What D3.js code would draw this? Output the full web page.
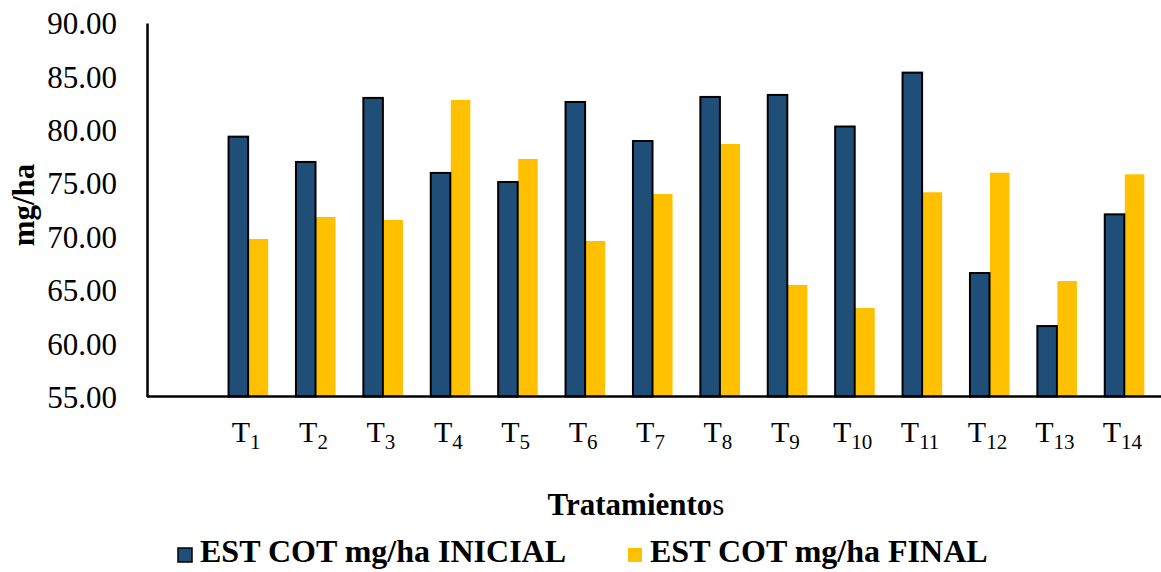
<!DOCTYPE html>
<html>
<head>
<meta charset="utf-8">
<script src="https://cdn.jsdelivr.net/npm/d3@7"></script>
<style>
  html, body { margin: 0; padding: 0; background: #fff; }
  svg { display: block; }
  text { font-family: "Liberation Serif", "Times New Roman", serif; fill: #000; }
</style>
</head>
<body>
<svg id="chart" width="1161" height="572"></svg>
<script>
// Treatments (an empty slot precedes T1 on the category axis)
const categories = ["", "1", "2", "3", "4", "5", "6", "7", "8", "9", "10", "11", "12", "13", "14"];
const treatments = categories.slice(1);
const inicial = [79.35, 76.98, 82.98, 75.95, 75.10, 82.60, 78.94, 83.07, 83.26, 80.30, 85.35, 66.57, 61.60, 72.07];
const final   = [69.76, 71.82, 71.54, 82.79, 77.26, 69.57, 73.98, 78.66, 65.45, 63.29, 74.14, 75.97, 65.82, 75.82];
const yTicks  = [55, 60, 65, 70, 75, 80, 85, 90];
const seriesNames = ["EST COT mg/ha INICIAL", "EST COT mg/ha FINAL"];

const colors = { inicial: "#1F4E79", final: "#FFC000" };

const svg = d3.select("#chart");

const x = d3.scaleBand().domain(categories).range([147, 1158]).padding(0);
const y = d3.scaleLinear().domain([55, 90]).range([396.5, 23]);

const barW = x.bandwidth() * 0.29;

// Bars: initial (outlined) left of the category centre, final right of it
const groups = svg.append("g");
treatments.forEach((t, i) => {
  const cx = x(t) + x.bandwidth() / 2;
  groups.append("rect")
    .attr("x", cx + 0.5)
    .attr("y", y(final[i]))
    .attr("width", barW)
    .attr("height", y(55) - y(final[i]))
    .attr("fill", colors.final);
  groups.append("rect")
    .attr("x", cx - barW)
    .attr("y", y(inicial[i]))
    .attr("width", barW)
    .attr("height", y(55) - y(inicial[i]))
    .attr("fill", colors.inicial)
    .attr("stroke", "#000")
    .attr("stroke-width", 2);
});

// Y axis
const yAxis = svg.append("g")
  .attr("transform", "translate(147,0)")
  .call(d3.axisLeft(y).tickValues(yTicks).tickFormat(d3.format(".2f")).tickSize(0).tickPadding(30));
yAxis.select(".domain").attr("stroke", "#000").attr("stroke-width", 2.5);
yAxis.selectAll("text")
  .attr("font-size", 31)
  .attr("font-family", "Liberation Serif, serif")
  .attr("dy", "0.35em");

// X axis line
svg.append("line")
  .attr("x1", 147).attr("x2", 1161)
  .attr("y1", y(55)).attr("y2", y(55))
  .attr("stroke", "#000").attr("stroke-width", 2.5);

// Category labels: T with subscript number
const xl = svg.append("g");
treatments.forEach(t => {
  const cx = x(t) + x.bandwidth() / 2;
  const txt = xl.append("text")
    .attr("x", cx - 2)
    .attr("y", 442)
    .attr("text-anchor", "middle")
    .attr("font-size", 30);
  txt.append("tspan").text("T");
  txt.append("tspan").attr("font-size", 21).attr("dy", 7).text(t);
});

// Axis titles
svg.append("text")
  .attr("transform", "translate(34,205) rotate(-90)")
  .attr("text-anchor", "middle")
  .attr("font-size", 31)
  .attr("font-weight", "bold")
  .text("mg/ha");

const xt = svg.append("text")
  .attr("x", 636).attr("y", 515)
  .attr("text-anchor", "middle")
  .attr("font-size", 31);
xt.append("tspan").attr("font-weight", "bold").text("Tratamiento");
xt.append("tspan").text("s");

// Legend
const legend = svg.append("g");
const legendItems = [
  { name: seriesNames[0], color: colors.inicial, stroke: true, x: 178 },
  { name: seriesNames[1], color: colors.final, stroke: false, x: 628 }
];
legendItems.forEach(d => {
  legend.append("rect")
    .attr("x", d.x).attr("y", 548)
    .attr("width", 14).attr("height", 14)
    .attr("fill", d.color)
    .attr("stroke", d.stroke ? "#000" : "none")
    .attr("stroke-width", 1.5);
  legend.append("text")
    .attr("x", d.x + 22).attr("y", 562)
    .attr("font-size", 32)
    .attr("font-weight", "bold")
    .text(d.name);
});
</script>
</body>
</html>
